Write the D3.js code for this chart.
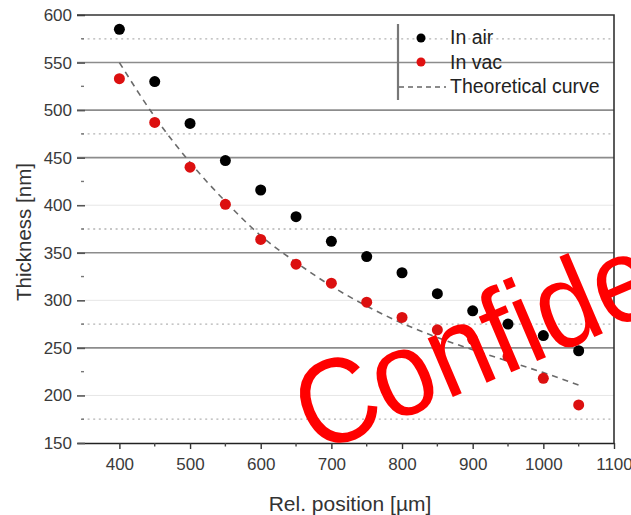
<!DOCTYPE html>
<html>
<head>
<meta charset="utf-8">
<script src="https://cdn.jsdelivr.net/npm/d3@7"></script>
<style>
  body { margin: 0; background: #fff; }
  svg { display: block; font-family: "Liberation Sans", Arial, sans-serif; }
</style>
</head>
<body>
<div id="chart"></div>
<script>
(function() {
  var width = 631;
  var height = 515;

  // data
  var positions = [400, 450, 500, 550, 600, 650, 700, 750, 800, 850, 900, 950, 1000, 1050];
  var inAir = [585, 530, 486, 447, 416, 388, 362, 346, 329, 307, 289, 275, 263, 247];
  var inVac = [533, 487, 440, 401, 364, 338, 318, 298, 282, 269, 259, 241, 218, 190];
  var theoretical = [550, 493, 445, 404, 368, 340, 315, 294, 276, 261, 248, 236, 224, 211];

  var xTicks = [400, 500, 600, 700, 800, 900, 1000, 1100];
  var xMinorTicks = [450, 550, 650, 750, 850, 950, 1050];
  var yTicks = [150, 200, 250, 300, 350, 400, 450, 500, 550, 600];
  var yMinorTicks = [175, 225, 275, 325, 375, 425, 475, 525, 575];
  var darkGrid = [250, 350, 450, 500, 550];
  var faintGrid = [200, 300, 400];
  var dottedGrid = [175, 275, 375, 475, 575];

  var legendItems = ['In air', 'In vac', 'Theoretical curve'];

  var margin = { top: 15, right: 17, bottom: 72, left: 77 };

  var x = d3.scaleLinear()
    .domain([340, 1100])
    .range([margin.left, width - margin.right]);

  var y = d3.scaleLinear()
    .domain([150, 600])
    .range([height - margin.bottom, margin.top]);

  var svg = d3.select('#chart')
    .append('svg')
    .attr('width', width)
    .attr('height', height);

  // gridlines
  var grid = svg.append('g');
  grid.selectAll('.dark')
    .data(darkGrid)
    .enter()
      .append('line')
      .attr('x1', x(340)).attr('x2', x(1100))
      .attr('y1', function(d) { return y(d); })
      .attr('y2', function(d) { return y(d); })
      .attr('stroke', '#8c8c8c')
      .attr('stroke-width', 1.6);

  grid.selectAll('.faint')
    .data(faintGrid)
    .enter()
      .append('line')
      .attr('x1', x(340) + 8).attr('x2', x(1100))
      .attr('y1', function(d) { return y(d); })
      .attr('y2', function(d) { return y(d); })
      .attr('stroke', '#e6e6e6')
      .attr('stroke-width', 1);

  grid.selectAll('.dotted')
    .data(dottedGrid)
    .enter()
      .append('line')
      .attr('x1', x(340) + 5).attr('x2', x(1100))
      .attr('y1', function(d) { return y(d); })
      .attr('y2', function(d) { return y(d); })
      .attr('stroke', '#b4b4b4')
      .attr('stroke-width', 1.3)
      .attr('stroke-dasharray', '2,3.6');

  // x axis along the bottom
  var xAxis = svg.append('g')
    .attr('transform', 'translate(0,' + y(150) + ')')
    .call(d3.axisBottom(x)
      .tickValues(xTicks)
      .tickFormat(d3.format('d'))
      .tickSize(6)
      .tickSizeOuter(0)
      .tickPadding(9));

  xAxis.select('.domain').attr('stroke', '#222').attr('stroke-width', 1.6);
  xAxis.selectAll('.tick line').attr('stroke', '#333').attr('stroke-width', 1.4);
  xAxis.selectAll('.tick text')
    .attr('font-size', 17)
    .attr('fill', '#3a3a3a')
    .attr('font-family', '"Liberation Sans", Arial, sans-serif');

  svg.append('g')
    .selectAll('line')
    .data(xMinorTicks)
    .enter()
      .append('line')
      .attr('x1', function(d) { return x(d); })
      .attr('x2', function(d) { return x(d); })
      .attr('y1', y(150))
      .attr('y2', y(150) + 3.5)
      .attr('stroke', '#444')
      .attr('stroke-width', 1.4);

  // y ticks: no axis line on the left, only short marks
  var yAxis = svg.append('g')
    .attr('transform', 'translate(' + (x(340) + 8) + ',0)')
    .call(d3.axisLeft(y).tickValues(yTicks).tickSize(8).tickSizeOuter(0).tickPadding(5));

  yAxis.select('.domain').remove();
  yAxis.selectAll('.tick line').attr('stroke', '#555').attr('stroke-width', 1.6);
  yAxis.selectAll('.tick text')
    .attr('font-size', 17)
    .attr('fill', '#3a3a3a')
    .attr('font-family', '"Liberation Sans", Arial, sans-serif');

  svg.append('g')
    .selectAll('line')
    .data(yMinorTicks)
    .enter()
      .append('line')
      .attr('x1', x(340) + 4)
      .attr('x2', x(340) + 7)
      .attr('y1', function(d) { return y(d); })
      .attr('y2', function(d) { return y(d); })
      .attr('stroke', '#777')
      .attr('stroke-width', 1.4);

  // top and right frame
  svg.append('path')
    .attr('d', 'M' + x(340) + ',' + y(600) + 'H' + x(1100) + 'V' + y(150))
    .attr('fill', 'none')
    .attr('stroke', '#333')
    .attr('stroke-width', 1.6);

  // theoretical curve
  var line = d3.line()
    .x(function(d, i) { return x(positions[i]); })
    .y(function(d) { return y(d); })
    .curve(d3.curveMonotoneX);

  svg.append('path')
    .datum(theoretical)
    .attr('d', line)
    .attr('fill', 'none')
    .attr('stroke', '#6a6a6a')
    .attr('stroke-width', 1.6)
    .attr('stroke-dasharray', '6,5');

  // points
  svg.append('g')
    .selectAll('circle')
    .data(inAir)
    .enter()
      .append('circle')
      .attr('cx', function(d, i) { return x(positions[i]); })
      .attr('cy', function(d) { return y(d); })
      .attr('r', 5.5)
      .attr('fill', '#000');

  svg.append('g')
    .selectAll('circle')
    .data(inVac)
    .enter()
      .append('circle')
      .attr('cx', function(d, i) { return x(positions[i]); })
      .attr('cy', function(d) { return y(d); })
      .attr('r', 5.5)
      .attr('fill', '#dc1010');

  // legend
  var legend = svg.append('g');
  legend.append('line')
    .attr('x1', 398).attr('x2', 398)
    .attr('y1', 24).attr('y2', 100)
    .attr('stroke', '#777')
    .attr('stroke-width', 2.2);

  legend.append('circle').attr('cx', 421).attr('cy', 38).attr('r', 4.5).attr('fill', '#000');
  legend.append('circle').attr('cx', 421).attr('cy', 62).attr('r', 4.5).attr('fill', '#e01010');
  legend.append('line')
    .attr('x1', 399).attr('x2', 446)
    .attr('y1', 87).attr('y2', 87)
    .attr('stroke', '#666')
    .attr('stroke-width', 1.5)
    .attr('stroke-dasharray', '5,4');

  legend.selectAll('text')
    .data(legendItems)
    .enter()
      .append('text')
      .attr('x', 450)
      .attr('y', function(d, i) { return 44 + i * 24.5; })
      .attr('font-size', 19.5)
      .attr('fill', '#222')
      .text(function(d) { return d; });

  // axis titles
  svg.append('text')
    .attr('x', 350)
    .attr('y', 511)
    .attr('text-anchor', 'middle')
    .attr('font-size', 21)
    .attr('fill', '#333')
    .text('Rel. position [µm]');

  svg.append('text')
    .attr('transform', 'translate(31,232) rotate(-90)')
    .attr('text-anchor', 'middle')
    .attr('font-size', 20.5)
    .attr('fill', '#333')
    .text('Thickness [nm]');

  // watermark
  svg.append('text')
    .attr('transform', 'translate(316,455) rotate(-23) scale(1.05,1.15)')
    .attr('font-size', 105)
    .attr('fill', '#ff0000')
    .text('Confidential');
})();
</script>
</body>
</html>
